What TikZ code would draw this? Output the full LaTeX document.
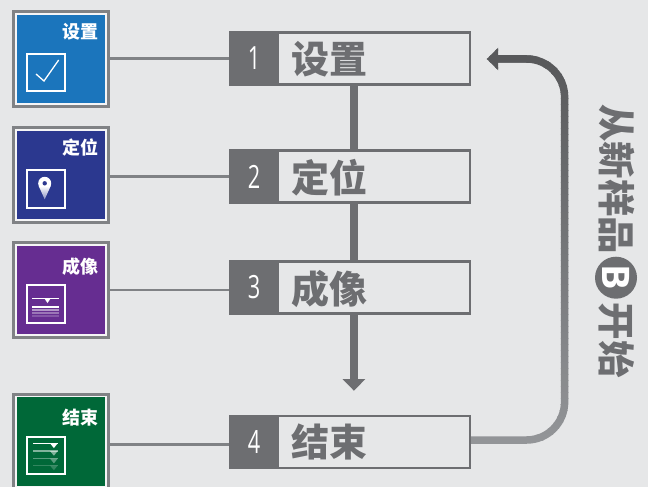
\documentclass[tikz,border=0pt]{standalone}
\usepackage{fontspec}
\usetikzlibrary{arrows.meta}
\setmainfont{Open Sans}
\newfontfamily\cjk{Noto Sans CJK SC}
\newfontfamily\numfont[FakeStretch=0.68]{Open Sans}
\definecolor{bggray}{HTML}{E6E7E8}
\definecolor{stepgray}{HTML}{6D6E71}
\definecolor{linegray}{HTML}{808285}
\definecolor{backtop}{HTML}{58595B}
\definecolor{backlow}{HTML}{939598}
\definecolor{setblue}{HTML}{1B75BC}
\definecolor{posnavy}{HTML}{2B388F}
\definecolor{imgpurple}{HTML}{662D91}
\definecolor{endgreen}{HTML}{006838}
\tikzset{
  card/.style={draw=bggray!40!white, line width=1.5pt, fill=#1, minimum width=90pt, minimum height=90pt,
    inner sep=0pt, outer sep=3.6pt, preaction={draw=linegray, line width=7.3pt}},
  cardlabel/.style={anchor=east, inner sep=0pt, text=white, font=\cjk\bfseries\fontsize{18}{18}\selectfont},
  iconbox/.style={draw=white, line width=2pt, minimum width=37.5pt, minimum height=37.5pt, inner sep=0pt},
  stepbox/.style={draw=stepgray, line width=2.5pt, minimum width=239.5pt, minimum height=52pt, inner sep=0pt},
  numbox/.style={fill=stepgray, minimum width=50pt, minimum height=54.5pt, inner sep=0pt, text=white,
    font=\numfont\fontsize{32}{32}\selectfont},
  steplabel/.style={anchor=west, inner sep=0pt, text=stepgray, font=\cjk\bfseries\fontsize{38}{38}\selectfont},
  sidelabel/.style={rotate=-90, inner sep=0pt, text=stepgray, font=\cjk\bfseries\fontsize{37.5}{37.5}\selectfont},
  cardline/.style={draw=linegray, line width=2.8pt},
  flowline/.style={draw=stepgray, line width=8pt},
  backline/.style={line width=7.5pt, rounded corners=38pt, -{Triangle[width=22pt,length=11.5pt]}}
}
\begin{document}
\begin{tikzpicture}[x=1pt,y=-1pt]
\fill [bggray] (0,0) rectangle (648,487);
\useasboundingbox (0,0) rectangle (648,487);

\node [card=setblue] (card1) at (61,58.9) {};
\node [card=posnavy] (card2) at (61,174.9) {};
\node [card=imgpurple] (card3) at (61,290) {};
\node [card=endgreen] (card4) at (61,441.7) {};

\node [cardlabel] (cardtext1) at (98.7,31.5) {设置};
\node [cardlabel] (cardtext2) at (98.7,147.5) {定位};
\node [cardlabel] (cardtext3) at (98.7,266.5) {成像};
\node [cardlabel] (cardtext4) at (98.7,417.5) {结束};

\node [iconbox] (icon1) at (45.9,72.5) {};
\node [iconbox] (icon2) at (45.9,188.8) {};
\node [iconbox] (icon3) at (45.9,303.8) {};
\node [iconbox] (icon4) at (45.9,455.5) {};

\draw [white, line width=1.3pt] (36,74) -- (44,81) -- (58.7,60);

\fill [white] (44.7,183.3) circle [radius=6.5];
\shade [top color=white, bottom color=posnavy!55!white] (38.7,186) -- (50.7,186) -- (44.7,199.3) -- cycle;
\fill [posnavy] (44.7,183.3) circle [radius=2.2];

\draw [white, line width=1.2pt] (32,298.3) -- (59,298.3);
\fill [white] (44.3,298.3) -- (50.7,298.3) -- (47.5,303) -- cycle;
\draw [white, line width=2pt] (32,307) -- (59,307);
\draw [white, opacity=0.5, line width=2pt] (32,310) -- (59,310);
\draw [white, opacity=0.35, line width=2pt] (32,313) -- (59,313);
\draw [white, opacity=0.2, line width=2pt] (32,316) -- (59,316);

\draw [white, line width=1.2pt] (33,443.3) -- (58,443.3);
\fill [white] (50,443.3) -- (57.7,443.3) -- (53.9,448) -- cycle;
\draw [white, opacity=0.5, line width=1.2pt] (33,451) -- (58,451);
\fill [white, opacity=0.5] (50,451) -- (57.7,451) -- (53.9,455.7) -- cycle;
\draw [white, opacity=0.35, line width=1.2pt] (33,458.6) -- (58,458.6);
\fill [white, opacity=0.35] (50,458.6) -- (57.7,458.6) -- (53.9,463.3) -- cycle;
\draw [white, opacity=0.2, line width=1.2pt] (33,465.5) -- (58,465.5);
\fill [white, opacity=0.2] (50,465.5) -- (57.7,465.5) -- (53.9,470.2) -- cycle;

\node [stepbox] (box1) at (350.2,58.5) {};
\node [stepbox] (box2) at (350.2,176.7) {};
\node [stepbox] (box3) at (350.2,287.4) {};
\node [stepbox] (box4) at (350.2,441.8) {};

\node [numbox] (num1) at (254.2,58.5) {1};
\node [numbox] (num2) at (254.2,176.7) {2};
\node [numbox] (num3) at (254.2,287.4) {3};
\node [numbox] (num4) at (254.2,441.8) {4};

\node [steplabel] (text1) at (291.5,59.5) {设置};
\node [steplabel] (text2) at (291.5,178) {定位};
\node [steplabel] (text3) at (291.5,289) {成像};
\node [steplabel] (text4) at (291.5,442) {结束};

\draw [cardline] (card1.east) -- (card1.east -| num1.west);
\draw [cardline] ([yshift=-1.4pt]card2.east) -- ([yshift=-1.4pt]card2.east -| num2.west);
\draw [cardline] (card3.east) -- (card3.east -| num3.west);
\draw [cardline] ([yshift=-2.6pt]card4.east) -- ([yshift=-2.6pt]card4.east -| num4.west);

\coordinate (flowtip) at (353.9,390.7);
\draw [flowline] ([xshift=3.7pt]box1.south) -- ([xshift=3.7pt]box2.north);
\draw [flowline] ([xshift=3.7pt]box2.south) -- ([xshift=3.7pt]box3.north);
\draw [flowline, -{Triangle[width=22pt,length=11.5pt]}] ([xshift=3.7pt]box3.south) -- (flowtip);

\coordinate (backstart) at ([yshift=1.8pt]box4.east);
\coordinate (backtip) at ([xshift=15.5pt,yshift=-0.5pt]box1.east);
\coordinate (backlowcorner) at (564.6,440);
\coordinate (backtopcorner) at (564.6,59);
\foreach \y in {44,50,...,452} {
  \pgfmathsetmacro{\mixval}{min(100,max(0,(\y-59)/381*100))}
  \begin{scope}
  \clip (450,\y) rectangle (590,\y+6.5);
  \draw [backline, color=backlow!\mixval!backtop] (backstart) -- (backlowcorner) -- (backtopcorner) -- (backtip);
  \end{scope}
}

\node [sidelabel] (side1) at (617,179) {从新样品};
\node [circle, fill=stepgray, minimum size=42pt, inner sep=0pt, text=white, rotate=-90,
  font=\bfseries\fontsize{38}{38}\selectfont] (sideb) at (616,277.7) {B};
\node [sidelabel] (side2) at (617,340) {开始};
\end{tikzpicture}
\end{document}
